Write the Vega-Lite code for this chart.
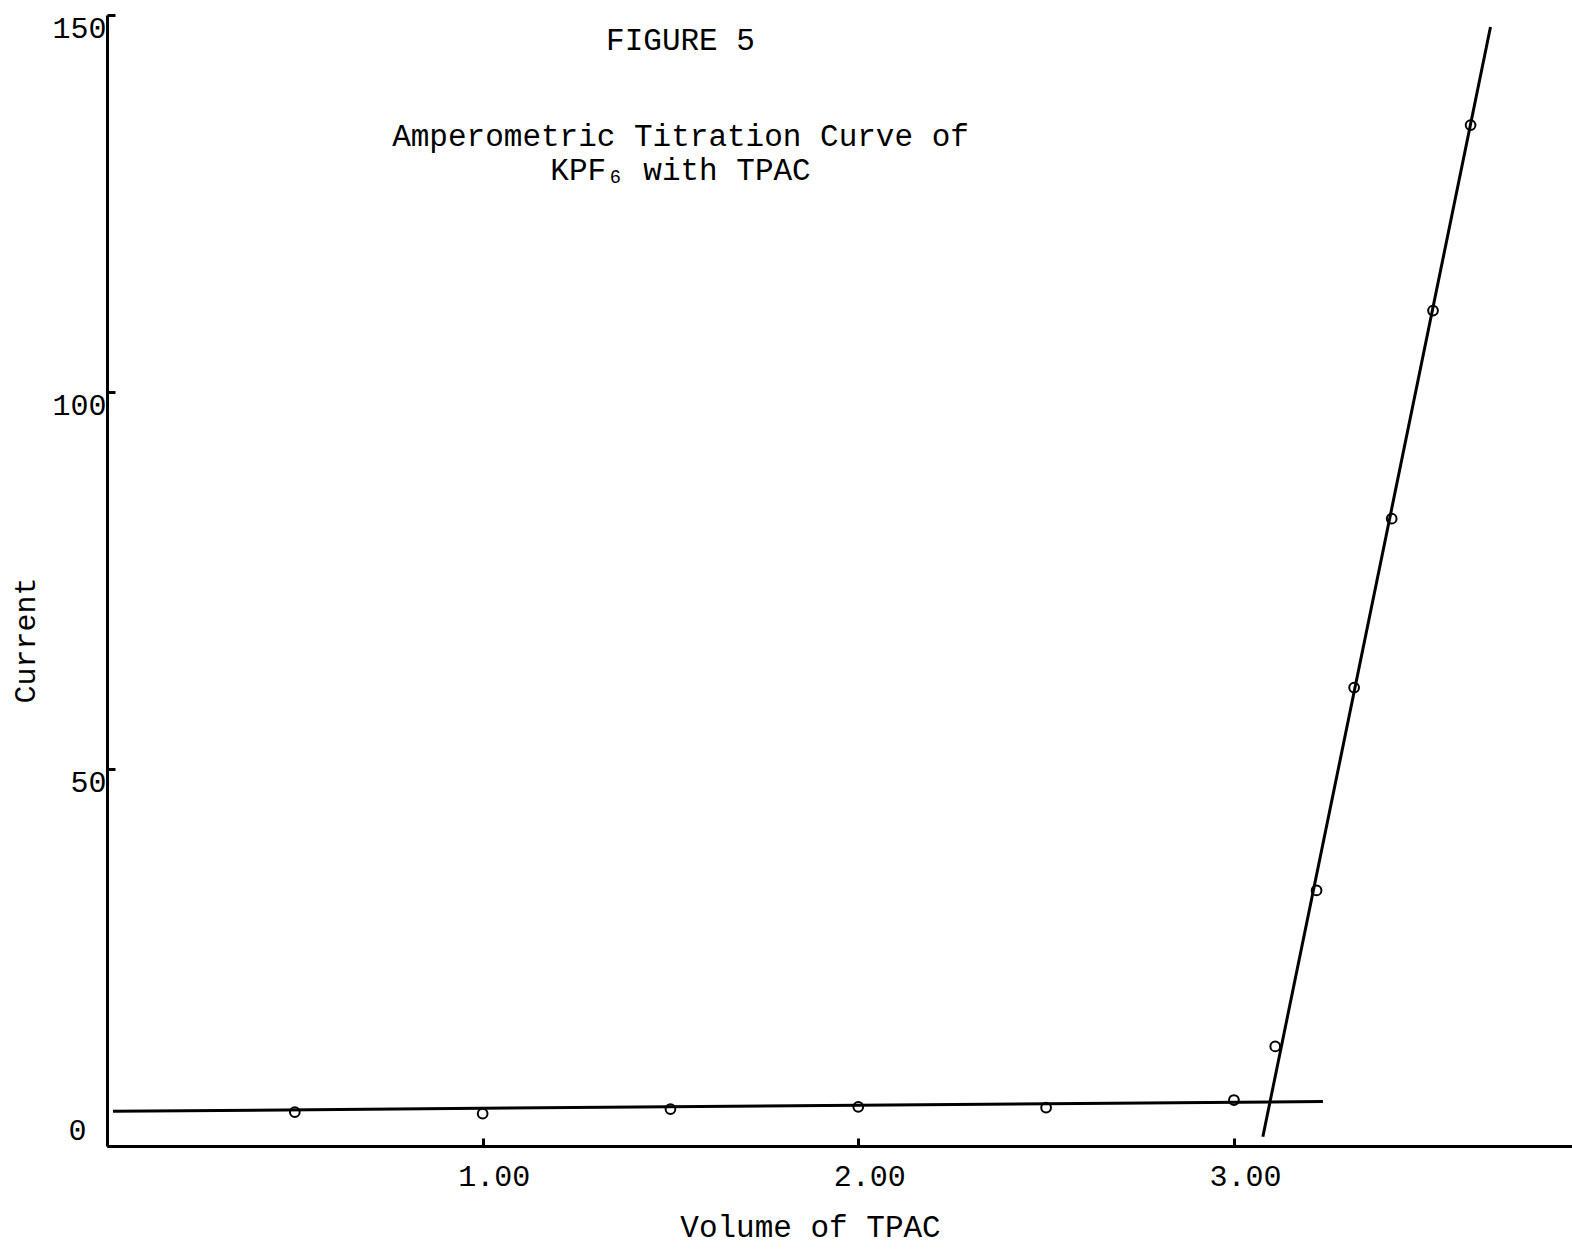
{
  "$schema": "https://vega.github.io/schema/vega-lite/v6.json",
  "width": 1465,
  "height": 1131,
  "autosize": {"type": "none"},
  "padding": {"left": 107, "top": 15, "right": 0, "bottom": 105},
  "background": "white",
  "config": {"view": {"stroke": null}, "font": "Liberation Mono"},
  "title": {
    "text": "FIGURE 5",
    "subtitle": ["Amperometric Titration Curve of", "KPF₆ with TPAC"],
    "anchor": "middle",
    "frame": "group",
    "baseline": "top",
    "font": "Liberation Mono",
    "fontSize": 31,
    "fontWeight": "normal",
    "color": "black",
    "subtitleFont": "Liberation Mono",
    "subtitleFontSize": 31,
    "subtitleFontWeight": "normal",
    "subtitleColor": "black",
    "subtitleLineHeight": 34,
    "subtitlePadding": 65,
    "offset": -174,
    "dx": -159
  },
  "datasets": {
    "readings": [
      {"volume": 0.5, "current": 4.5},
      {"volume": 1.0, "current": 4.3},
      {"volume": 1.5, "current": 4.9},
      {"volume": 2.0, "current": 5.2},
      {"volume": 2.5, "current": 5.1},
      {"volume": 3.0, "current": 6.1},
      {"volume": 3.11, "current": 13.2},
      {"volume": 3.22, "current": 33.9},
      {"volume": 3.32, "current": 60.8},
      {"volume": 3.42, "current": 83.2},
      {"volume": 3.53, "current": 110.8},
      {"volume": 3.63, "current": 135.4}
    ],
    "fits": [
      {"fit": "before end point", "volume": 0.016, "current": 4.6},
      {"fit": "before end point", "volume": 3.237, "current": 5.9},
      {"fit": "after end point", "volume": 3.077, "current": 1.23},
      {"fit": "after end point", "volume": 3.683, "current": 148.4}
    ]
  },
  "encoding": {
    "x": {
      "field": "volume",
      "type": "quantitative",
      "scale": {"domain": [0, 3.9], "nice": false, "zero": false},
      "axis": {
        "title": "Volume of TPAC",
        "values": [1, 2, 3],
        "format": ".2f",
        "grid": false,
        "domainColor": "black",
        "domainWidth": 3,
        "tickColor": "black",
        "tickWidth": 3,
        "tickSize": -8,
        "labelFont": "Liberation Mono",
        "labelFontSize": 30,
        "labelColor": "black",
        "labelPadding": 23,
        "labelOffset": 11,
        "labelFlush": false,
        "titleFont": "Liberation Mono",
        "titleFontSize": 31,
        "titleFontWeight": "normal",
        "titleColor": "black",
        "titleAlign": "center",
        "titleBaseline": "middle",
        "titleX": 703,
        "titleY": 81
      }
    },
    "y": {
      "field": "current",
      "type": "quantitative",
      "scale": {"domain": [0, 150], "nice": false, "zero": false},
      "axis": {
        "title": "Current",
        "values": [0, 50, 100, 150],
        "format": "d",
        "grid": false,
        "domainColor": "black",
        "domainWidth": 3,
        "tickColor": "black",
        "tickWidth": 3,
        "tickSize": -8,
        "labelFont": "Liberation Mono",
        "labelFontSize": 30,
        "labelColor": "black",
        "labelBaseline": "middle",
        "labelFlush": false,
        "labelPadding": {"condition": {"test": "datum.value === 0", "value": 29}, "value": 9},
        "labelOffset": {"condition": {"test": "datum.value === 0", "value": -16}, "value": 13},
        "titleFont": "Liberation Mono",
        "titleFontSize": 30,
        "titleFontWeight": "normal",
        "titleColor": "black",
        "titleAngle": -90,
        "titleAlign": "center",
        "titleBaseline": "middle",
        "titleX": -82,
        "titleY": 625
      }
    }
  },
  "layer": [
    {
      "data": {"name": "fits"},
      "mark": {"type": "line", "color": "black", "strokeWidth": 3},
      "encoding": {"detail": {"field": "fit"}}
    },
    {
      "data": {"name": "readings"},
      "mark": {"type": "point", "shape": "circle", "filled": false, "color": "black", "strokeWidth": 2, "size": 95, "opacity": 1},
      "encoding": {}
    }
  ]
}
